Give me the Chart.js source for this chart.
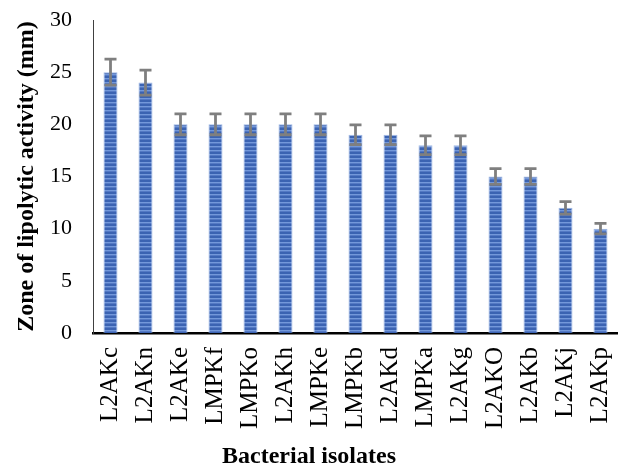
<!DOCTYPE html>
<html>
<head>
<meta charset="utf-8">
<script src="https://cdn.jsdelivr.net/npm/chart.js@4/dist/chart.umd.min.js"></script>
<style>
html,body{margin:0;padding:0;background:#fff;}
#wrap{width:618px;height:469px;}
</style>
</head>
<body>
<div id="wrap"><canvas id="c" width="618" height="469"></canvas></div>
<script>
const categories = ["L2AKc","L2AKn","L2AKe","LMPKf","LMPKo","L2AKh","LMPKe","LMPKb","L2AKd","LMPKa","L2AKg","L2AKO","L2AKb","L2AKj","L2AKp"];
const zoneValues = [25, 24, 20, 20, 20, 20, 20, 19, 19, 18, 18, 15, 15, 12, 10];
const zoneErrors = [1.25, 1.2, 1.0, 1.0, 1.0, 1.0, 1.0, 0.95, 0.95, 0.9, 0.9, 0.75, 0.75, 0.6, 0.5];
const yTicks = [0, 5, 10, 15, 20, 25, 30];

function makePattern(){
  const p = document.createElement('canvas');
  p.width = 4; p.height = 4;
  const g = p.getContext('2d');
  g.fillStyle = '#3b63b2'; g.fillRect(0,0,4,2);
  g.fillStyle = '#7398da'; g.fillRect(0,2,4,1);
  g.fillStyle = '#5479c4'; g.fillRect(0,3,4,1);
  return g.createPattern(p, 'repeat');
}

const errorBars = {
  id: 'errorBars',
  afterDatasetsDraw(chart){
    const ctx = chart.ctx;
    const meta = chart.getDatasetMeta(0);
    const ys = chart.scales.y;
    ctx.save();
    ctx.strokeStyle = '#7f7f7f';
    ctx.lineWidth = 2.8;
    meta.data.forEach((bar, i) => {
      const v = zoneValues[i], e = zoneErrors[i];
      const x = bar.x;
      const t = ys.getPixelForValue(v + e);
      const b = ys.getPixelForValue(v - e);
      ctx.beginPath();
      ctx.moveTo(x, t); ctx.lineTo(x, b);
      ctx.moveTo(x - 6, t); ctx.lineTo(x + 6, t);
      ctx.moveTo(x - 6, b); ctx.lineTo(x + 6, b);
      ctx.stroke();
    });
    ctx.restore();
  }
};

const serif = "'Liberation Serif','Times New Roman',serif";

new Chart(document.getElementById('c'), {
  type: 'bar',
  data: {
    labels: categories,
    datasets: [{
      data: zoneValues,
      backgroundColor: makePattern(),
      borderColor: '#9fb8e4',
      borderWidth: 1,
      barPercentage: 0.4,
      categoryPercentage: 1.0
    }]
  },
  options: {
    responsive: false,
    animation: false,
    layout: { padding: { top: 20, right: 0, left: 0, bottom: 0 } },
    plugins: {
      legend: { display: false },
      tooltip: { enabled: false },
      title: {
        display: true,
        position: 'bottom',
        text: 'Bacterial isolates',
        color: '#000',
        font: { family: serif, size: 24, weight: 'bold', lineHeight: 1.0 },
        padding: { top: 2, bottom: 0 }
      }
    },
    scales: {
      x: {
        grid: { display: false, drawTicks: false },
        border: { display: true, color: '#000', width: 2.5 },
        ticks: {
          color: '#000',
          font: { family: serif, size: 25 },
          minRotation: 90, maxRotation: 90,
          padding: 14,
          autoSkip: false
        },
        afterFit(s){ s.height = 110; s.paddingLeft = 0; s.paddingRight = 0; }
      },
      y: {
        min: 0, max: 30,
        afterBuildTicks(s){ s.ticks = yTicks.map(v => ({ value: v })); },
        grid: { display: false, drawTicks: false },
        border: { display: true, color: '#404040', width: 1 },
        ticks: {
          color: '#000',
          font: { family: serif, size: 22 },
          padding: 21
        },
        title: {
          display: true,
          text: 'Zone of lipolytic activity (mm)',
          color: '#000',
          font: { family: serif, size: 24, weight: 'bold' },
          padding: { top: 12, bottom: 0 }
        },
        afterFit(s){ s.width = 93; s.paddingTop = 0; s.paddingBottom = 0; }
      }
    }
  },
  plugins: [errorBars]
});
</script>
</body>
</html>
